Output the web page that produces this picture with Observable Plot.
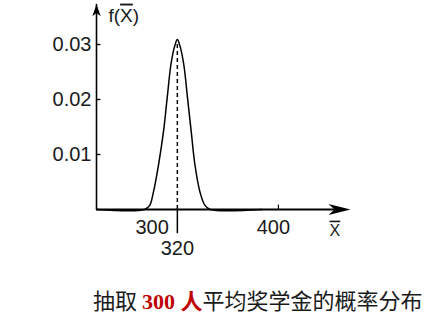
<!DOCTYPE html>
<html><head><meta charset="utf-8">
<script src="https://cdn.jsdelivr.net/npm/d3@7"></script>
<script src="https://cdn.jsdelivr.net/npm/@observablehq/plot@0.6"></script>
<style>
body{margin:0;background:#fff;width:424px;height:314px;overflow:hidden;position:relative;font-family:"Liberation Sans",Arial,sans-serif}
#chart{position:absolute;left:0;top:0}
#cap{position:absolute;left:93px;top:287px;font-family:"Noto Sans CJK SC",sans-serif;font-size:22px;line-height:25px;color:#1a1a1a;white-space:nowrap}
#cap b{font-family:"Liberation Serif","Noto Sans CJK SC",serif;color:#c00000;font-weight:bold}
</style></head>
<body><div id="chart"></div><div id="cap">抽取 <b>300 人</b>平均奖学金的概率分布</div>
<script>
// curve (x̄ value, density)
const curveX = [256, 294, 298, 301, 305, 309, 312, 315, 318, 320, 322, 325, 328, 331, 334, 338, 342, 346, 387];
const curveY = [0, 0, 0.0007, 0.0031, 0.008, 0.0141, 0.0204, 0.0265, 0.0298, 0.0309, 0.0298, 0.0265, 0.0204, 0.0141, 0.008, 0.0031, 0.0007, 0, 0];
const yTicks = [0.01, 0.02, 0.03];
const xTickLow = [300];
const xTickHigh = [400];
const meanX = [320];
const peakY = 0.0305;
const xDomain = [256, 455];
const yDomain = [0, 0.038];
const yAxisTop = 0.0373;
const yLabel = "f(X)";
const xLabel = "X";

const curve = curveX.map((x, i) => ({x, y: curveY[i]}));

const arrow = (w) => ({draw(ctx, size){ const r = Math.sqrt(size/Math.PI);
  ctx.moveTo(0,-r); ctx.lineTo(w*r, r); ctx.lineTo(0, 0.45*r); ctx.lineTo(-w*r, r); ctx.closePath(); }});

const font = {fontFamily:"Liberation Sans, Arial, sans-serif", fill:"#1a1a1a"};

const plot = Plot.plot({
  width: 424, height: 314,
  marginLeft: 96, marginRight: 424-347.4, marginTop: 0, marginBottom: 105,
  x: {domain: xDomain, axis: null},
  y: {domain: yDomain, axis: null},
  style: {background: "white", fontFamily: "Liberation Sans, Arial, sans-serif"},
  marks: [
    Plot.ruleX([xDomain[0]], {y1: 0, y2: yAxisTop, stroke: "black", strokeWidth: 1.6}),
    Plot.dot([{x: xDomain[0], y: yAxisTop}], {x: "x", y: "y", symbol: arrow(0.7), r: 6, dy: 6, fill: "black", stroke: "none"}),
    Plot.ruleY([0], {x1: xDomain[0], x2: xDomain[1] - 5, stroke: "black", strokeWidth: 2}),
    Plot.dot([{x: xDomain[1], y: 0}], {x: "x", y: "y", symbol: arrow(0.5), r: 11, dx: -8.4, rotate: 90, fill: "black", stroke: "none"}),
    Plot.ruleY(yTicks, {x1: xDomain[0], x2: xDomain[0] + 3.5, stroke: "black", strokeWidth: 1.4}),
    Plot.axisY(yTicks, {anchor: "left", tickSize: 0, tickPadding: 5, tickFormat: d3.format(".2f"), fontSize: 20, label: null, ...font}),
    Plot.line(curve, {x: "x", y: "y", curve: "catmull-rom", stroke: "black", strokeWidth: 1.5}),
    Plot.ruleX(meanX, {y1: 0, y2: peakY, stroke: "black", strokeWidth: 1.5, strokeDasharray: "4,3"}),
    Plot.ruleX(meanX, {y1: 0, y2: -0.0044, stroke: "black", strokeWidth: 1.5}),
    Plot.ruleX(xTickHigh, {y1: 0, y2: 0.0008, stroke: "black", strokeWidth: 1.2}),
    Plot.text(xTickLow, {x: d => d, y: 0, dy: 18, fontSize: 20, text: d => String(d), ...font}),
    Plot.text(xTickHigh, {x: d => d, y: 0, dy: 18, dx: -5, fontSize: 20, text: d => String(d), ...font}),
    Plot.text(meanX, {x: d => d, y: 0, dy: 39, fontSize: 20, text: d => String(d), ...font}),
    Plot.text([yLabel], {frameAnchor: "top-left", textAnchor: "start", lineAnchor: "middle", dx: 12, dy: 15, fontSize: 19, className: "ylab", ...font}),
    Plot.text([xLabel], {frameAnchor: "bottom-right", textAnchor: "middle", lineAnchor: "middle", dx: -13, dy: 21, fontSize: 16, className: "xlab", ...font})
  ]
});
document.getElementById("chart").appendChild(plot);
const svg = d3.select(plot);
svg.selectAll("g.xlab text").style("text-decoration", "overline");
const yt = svg.select("g.ylab text");
yt.text(null);
yt.append("tspan").text("f(");
yt.append("tspan").style("text-decoration", "overline").text("X");
yt.append("tspan").text(")");
</script>
</body></html>
